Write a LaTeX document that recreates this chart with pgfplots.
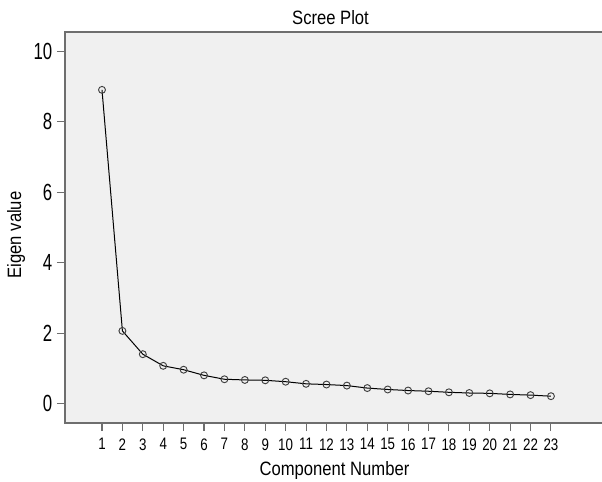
\documentclass[border=0pt]{standalone}
\usepackage{fontspec}
\setmainfont[FakeStretch=0.86]{Liberation Sans}
\newfontfamily\yfont[FakeStretch=0.72]{Liberation Sans}
\newfontfamily\xfont[FakeStretch=0.80]{Liberation Sans}
\usepackage{pgfplots}
\pgfplotsset{compat=1.18}
\definecolor{plotbg}{HTML}{F0F0F0}
\definecolor{axgray}{HTML}{6E6E6E}
\begin{document}
\begin{tikzpicture}
\begin{axis}[
  at={(0,0)}, anchor=south west,
  scale only axis,
  width=404.25pt, height=293.25pt,
  xmin=-0.813, xmax=25.6,
  ymin=-0.54, ymax=10.54,
  axis background/.style={fill=plotbg},
  axis line style={axgray, line width=0.8pt},
  xtick={1,...,23},
  ytick={0,2,4,6,8,10},
  tick align=outside,
  tick style={axgray, line width=0.8pt},
  major tick length=6pt,
  xtick pos=bottom, ytick pos=left,
  /pgf/number format/assume math mode=true,
  yticklabel style={font=\yfont\fontsize{17.5}{18}\selectfont},
  xticklabel style={font=\xfont\fontsize{12.5}{13}\selectfont, yshift=-2pt},
  xlabel={Component Number},
  ylabel={Eigen value},
  title={Scree Plot},
  every axis title shift=0pt,
  label style={font=\fontsize{14.5}{15}\selectfont},
  title style={font=\fontsize{14.5}{15}\selectfont, at={(axis description cs:0.4926,1.018)}, anchor=base},
  xlabel style={at={(axis description cs:0.5,-0.1355)}, anchor=base},
  ylabel style={at={(axis description cs:-0.0816,0.481)}, anchor=base, rotate=0},
]
\addplot[black, line width=0.75pt, mark=o, mark size=2.6pt,
  mark options={draw=black!75, line width=0.7pt, fill=gray, fill opacity=0.25}]
coordinates {
(1,8.90) (2,2.07) (3,1.41) (4,1.08) (5,0.97) (6,0.81) (7,0.70) (8,0.68)
(9,0.67) (10,0.63) (11,0.57) (12,0.55) (13,0.52) (14,0.45) (15,0.41)
(16,0.38) (17,0.36) (18,0.33) (19,0.31) (20,0.30) (21,0.27) (22,0.25) (23,0.22)
};
\end{axis}
\pgfresetboundingbox
\useasboundingbox (-48.75pt,-43.5pt) rectangle (402.75pt,317.25pt);
\end{tikzpicture}
\end{document}
